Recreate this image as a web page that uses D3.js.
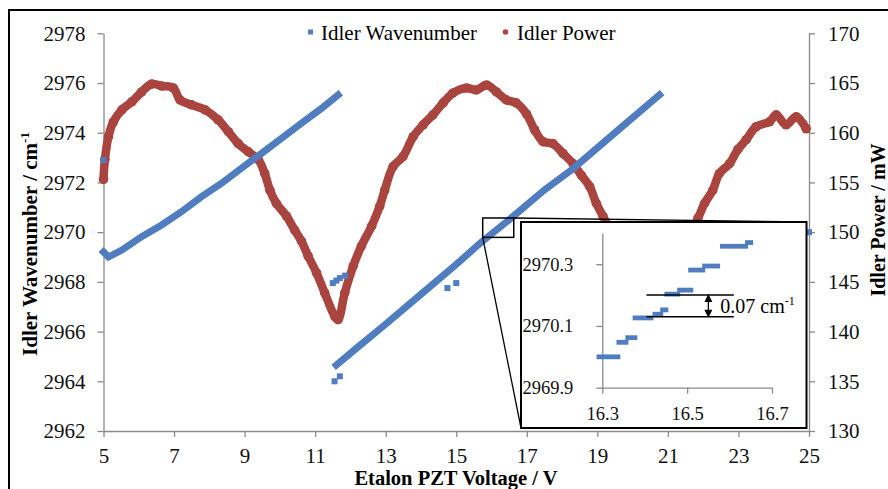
<!DOCTYPE html>
<html>
<head>
<meta charset="utf-8">
<script src="https://cdn.jsdelivr.net/npm/d3@7"></script>
<style>
  html, body { margin: 0; padding: 0; background: #fff; }
  svg { display: block; font-family: "Liberation Serif", "Times New Roman", serif; }
</style>
</head>
<body>
<div id="chart"></div>
<script>
// ---- data ----

// x axis (Etalon PZT Voltage / V)
const voltTicks = [5, 7, 9, 11, 13, 15, 17, 19, 21, 23, 25];
// left axis (Idler Wavenumber / cm-1)
const wnTicks = [2962, 2964, 2966, 2968, 2970, 2972, 2974, 2976, 2978];
// right axis (Idler Power / mW)
const powTicks = [130, 135, 140, 145, 150, 155, 160, 165, 170];

// idler wavenumber, first scan
const scanA_V = [5.0, 5.14, 5.52, 6.08, 6.65, 7.21, 7.78, 8.35, 8.91, 9.48, 10.05, 10.61, 11.18, 11.65];
const scanA_W = [2969.2, 2969.0, 2969.28, 2969.82, 2970.29, 2970.82, 2971.43, 2971.97, 2972.57, 2973.17, 2973.78, 2974.38, 2974.98, 2975.52];

// idler wavenumber, second scan
const scanB_V = [11.6, 12.17, 13.0, 14.0, 15.0, 15.67, 16.5, 17.5, 18.31, 19.5, 20.76];
const scanB_W = [2964.65, 2965.33, 2966.3, 2967.5, 2968.7, 2969.55, 2970.5, 2971.7, 2972.55, 2974.0, 2975.52];

// stray wavenumber points
const strayV = [5.0, 11.5, 11.6, 11.7, 11.85, 11.55, 11.7, 14.75, 15.0, 25.0];
const strayW = [2972.9, 2967.95, 2968.05, 2968.15, 2968.25, 2964.0, 2964.2, 2967.75, 2967.95, 2970.0];

// idler power
const powV = [5.0, 5.04, 5.14, 5.28, 5.52, 5.8, 6.08, 6.37, 6.65, 6.98, 7.17, 7.5, 7.88, 8.25, 8.54, 8.82, 9.1, 9.39, 9.57, 9.72,
  9.9, 10.19, 10.42, 10.61, 10.8, 11.04, 11.27, 11.56, 11.65, 11.84, 12.08, 12.31, 12.6, 12.83, 12.97, 13.21, 13.49, 13.78,
  14.06, 14.34, 14.63, 14.91, 15.29, 15.57, 15.86, 16.14, 16.42, 16.7, 16.99, 17.22, 17.46, 17.74, 18.03, 18.31, 18.55,
  18.78, 18.97, 19.16, 19.5, 20.0, 20.5, 21.0, 21.5, 21.85, 22.04, 22.27, 22.46, 22.75, 22.98, 23.22, 23.5, 23.88, 24.07,
  24.35, 24.64, 24.92];
const powP = [155.3, 157.3, 159.6, 161.1, 162.3, 163.1, 164.1, 164.9, 164.7, 164.5, 163.3, 162.8, 162.3, 161.3, 160.1, 158.9,
  158.1, 157.3, 155.9, 154.2, 152.9, 151.6, 150.2, 149.1, 147.6, 145.9, 143.9, 141.5, 141.2, 143.9, 146.6, 148.6, 150.6,
  152.6, 154.2, 156.6, 157.6, 159.6, 160.8, 161.8, 163.0, 164.0, 164.5, 164.3, 164.8, 164.1, 163.3, 163.0, 161.9, 160.3,
  159.1, 158.9, 157.9, 156.9, 155.7, 154.6, 152.9, 151.6, 149.5, 147.5, 146.5, 147.0, 149.0, 151.4, 152.9, 154.2, 155.9,
  156.9, 158.3, 159.3, 160.6, 161.1, 161.8, 160.8, 161.6, 160.4];

// inset: zoomed steps [V start, V end, wavenumber]
const stepV0 = [16.290, 16.337, 16.358, 16.375, 16.422, 16.440, 16.450, 16.480, 16.506, 16.539, 16.581, 16.640];
const stepV1 = [16.339, 16.358, 16.379, 16.417, 16.440, 16.452, 16.480, 16.511, 16.539, 16.574, 16.640, 16.652];
const stepW  = [2970.000, 2970.047, 2970.062, 2970.126, 2970.138, 2970.152, 2970.203, 2970.216, 2970.281, 2970.294, 2970.358, 2970.370];
const insetVTicks = [16.3, 16.5, 16.7];
const insetWTicks = [2969.9, 2970.1, 2970.3];

// ---- layout ----
const width = 888, height = 489;
const blue = "#4F7DC0";
const red = "#A9443F";
const axisGrey = "#8a8a8a";

const svg = d3.select("#chart").append("svg")
    .attr("width", width)
    .attr("height", height);

// scales
const x = d3.scaleLinear().domain([5, 25]).range([103.5, 809]);
const yL = d3.scaleLinear().domain([2962, 2978]).range([431, 33.3]);
const yR = d3.scaleLinear().domain([130, 170]).range([431, 33.3]);

// outer frame (cropped at the right and bottom)
svg.append("path")
    .attr("d", `M9,${height} V10 H${width}`)
    .attr("fill", "none")
    .attr("stroke", "#000")
    .attr("stroke-width", 2);

// axes
function styleAxis(g, size) {
    g.select(".domain").attr("stroke", axisGrey).attr("stroke-width", 1.3);
    g.selectAll(".tick line").attr("stroke", axisGrey).attr("stroke-width", 1.3);
    g.selectAll(".tick text").attr("fill", "#111").style("font-size", size + "px")
        .style("font-family", "'Liberation Serif', serif");
}

svg.append("g")
    .attr("transform", "translate(0,431)")
    .call(d3.axisBottom(x).tickValues(voltTicks).tickSize(6).tickSizeOuter(0).tickPadding(11).tickFormat(d3.format("d")))
    .call(g => styleAxis(g, 21));

svg.append("g")
    .attr("transform", "translate(103.5,0)")
    .call(d3.axisLeft(yL).tickValues(wnTicks).tickSize(6).tickSizeOuter(0).tickPadding(12).tickFormat(d3.format("d")))
    .call(g => styleAxis(g, 21));

svg.append("g")
    .attr("transform", "translate(809,0)")
    .call(d3.axisRight(yR).tickValues(powTicks).tickSize(6).tickSizeOuter(0).tickPadding(13).tickFormat(d3.format("d")))
    .call(g => styleAxis(g, 21));

// axis titles
svg.append("text")
    .attr("x", 456).attr("y", 485)
    .attr("text-anchor", "middle")
    .style("font-size", "20.5px").style("font-weight", "bold")
    .text("Etalon PZT Voltage / V");

let lt = svg.append("text")
    .attr("transform", "translate(37,244) rotate(-90)")
    .attr("text-anchor", "middle")
    .style("font-size", "21px").style("font-weight", "bold");
lt.append("tspan").text("Idler Wavenumber / cm");
lt.append("tspan").attr("dy", -8).style("font-size", "13px").text("-1");

svg.append("text")
    .attr("transform", "translate(885,220) rotate(-90)")
    .attr("text-anchor", "middle")
    .style("font-size", "20px").style("font-weight", "bold")
    .text("Idler Power / mW");

// ---- series ----
const lineL = d3.line().x(d => x(d[0])).y(d => yL(d[1]));
const lineR = d3.line().x(d => x(d[0])).y(d => yR(d[1])).curve(d3.curveCatmullRom);

const power = powV.map((v, i) => [v, powP[i]]);
svg.append("path")
    .datum(power)
    .attr("d", lineR)
    .attr("fill", "none")
    .attr("stroke", red)
    .attr("stroke-width", 8.5)
    .attr("stroke-linejoin", "round");
svg.append("g").selectAll("circle")
    .data(power)
    .enter().append("circle")
    .attr("cx", d => x(d[0]))
    .attr("cy", d => yR(d[1]))
    .attr("r", 4.8)
    .attr("fill", red);

[[scanA_V, scanA_W], [scanB_V, scanB_W]].forEach(function(s) {
    let pts = s[0].map((v, i) => [v, s[1][i]]);
    svg.append("path")
        .datum(pts)
        .attr("d", lineL)
        .attr("fill", "none")
        .attr("stroke", blue)
        .attr("stroke-width", 7)
        .attr("stroke-linecap", "square");
});

svg.append("g").selectAll("rect")
    .data(strayV.map((v, i) => [v, strayW[i]]))
    .enter().append("rect")
    .attr("x", d => x(d[0]) - 3)
    .attr("y", d => yL(d[1]) - 3)
    .attr("width", 6)
    .attr("height", 6)
    .attr("fill", blue);

// legend
const legend = svg.append("g").style("font-size", "21px");
legend.append("rect").attr("x", 308).attr("y", 29.5).attr("width", 5).attr("height", 5).attr("fill", blue);
legend.append("text").attr("x", 321).attr("y", 39.5).text("Idler Wavenumber");
legend.append("circle").attr("cx", 505.5).attr("cy", 32).attr("r", 2.8).attr("fill", red);
legend.append("text").attr("x", 517).attr("y", 39.5).text("Idler Power");

// ---- zoom box and inset ----
const zoomBoxV = [15.75, 16.63];
const zoomBoxW = [2969.79, 2970.57];
const inset = { x0: 521, y0: 222, x1: 806.5, y1: 428 };

const bx0 = x(zoomBoxV[0]), bx1 = x(zoomBoxV[1]);
const by0 = yL(zoomBoxW[1]), by1 = yL(zoomBoxW[0]);

// connector lines
svg.append("line")
    .attr("x1", bx1).attr("y1", by0).attr("x2", inset.x1).attr("y2", inset.y0)
    .attr("stroke", "#000").attr("stroke-width", 1.3);
svg.append("line")
    .attr("x1", bx0).attr("y1", by1).attr("x2", inset.x0).attr("y2", inset.y1)
    .attr("stroke", "#000").attr("stroke-width", 1.3);

svg.append("rect")
    .attr("x", bx0).attr("y", by0)
    .attr("width", bx1 - bx0).attr("height", by1 - by0)
    .attr("fill", "none").attr("stroke", "#000").attr("stroke-width", 1.5);

svg.append("rect")
    .attr("x", inset.x0).attr("y", inset.y0)
    .attr("width", inset.x1 - inset.x0).attr("height", inset.y1 - inset.y0)
    .attr("fill", "#fff").attr("stroke", "#000").attr("stroke-width", 2);

const ix = d3.scaleLinear().domain([16.3, 16.7]).range([602.3, 772]);
const iy = d3.scaleLinear().domain([2969.9, 2970.4]).range([387.7, 233.3]);

svg.append("g")
    .attr("transform", "translate(0,387.7)")
    .call(d3.axisBottom(ix).tickValues(insetVTicks).tickSize(6).tickSizeOuter(0).tickPadding(13).tickFormat(d3.format(".1f")))
    .call(g => styleAxis(g, 18.5));

svg.append("g")
    .attr("transform", "translate(602.3,0)")
    .call(d3.axisLeft(iy).tickValues(insetWTicks).tickSize(6).tickSizeOuter(0).tickPadding(23).tickFormat(d3.format(".1f")))
    .call(g => styleAxis(g, 18.5));

svg.append("g").selectAll("rect")
    .data(stepW.map((w, i) => [stepV0[i], stepV1[i], w]))
    .enter().append("rect")
    .attr("x", d => ix(d[0]) - 1.5)
    .attr("y", d => iy(d[2]) - 2.4)
    .attr("width", d => ix(d[1]) - ix(d[0]) + 3)
    .attr("height", 4.8)
    .attr("fill", blue);

// step size annotation
const stepHi = 2970.2, stepLo = 2970.13;
const annV = [16.404, 16.61], arrowV = 16.55;
[stepHi, stepLo].forEach(function(w) {
    svg.append("line")
        .attr("x1", ix(annV[0])).attr("x2", ix(annV[1]))
        .attr("y1", iy(w)).attr("y2", iy(w))
        .attr("stroke", "#000").attr("stroke-width", 1.4);
});
const ax = ix(arrowV), ayTop = iy(stepHi), ayBot = iy(stepLo);
svg.append("line")
    .attr("x1", ax).attr("x2", ax).attr("y1", ayTop + 6).attr("y2", ayBot - 6)
    .attr("stroke", "#000").attr("stroke-width", 1.3);
svg.append("path")
    .attr("d", `M${ax},${ayTop - 1} l-4,8 h8 Z M${ax},${ayBot + 1} l-4,-8 h8 Z`)
    .attr("fill", "#000");

let ann = svg.append("text")
    .attr("x", ax + 12).attr("y", (ayTop + ayBot) / 2 + 7)
    .style("font-size", "20px");
ann.append("tspan").text("0.07 cm");
ann.append("tspan").attr("dy", -8).style("font-size", "12px").text("-1");
</script>
</body>
</html>
